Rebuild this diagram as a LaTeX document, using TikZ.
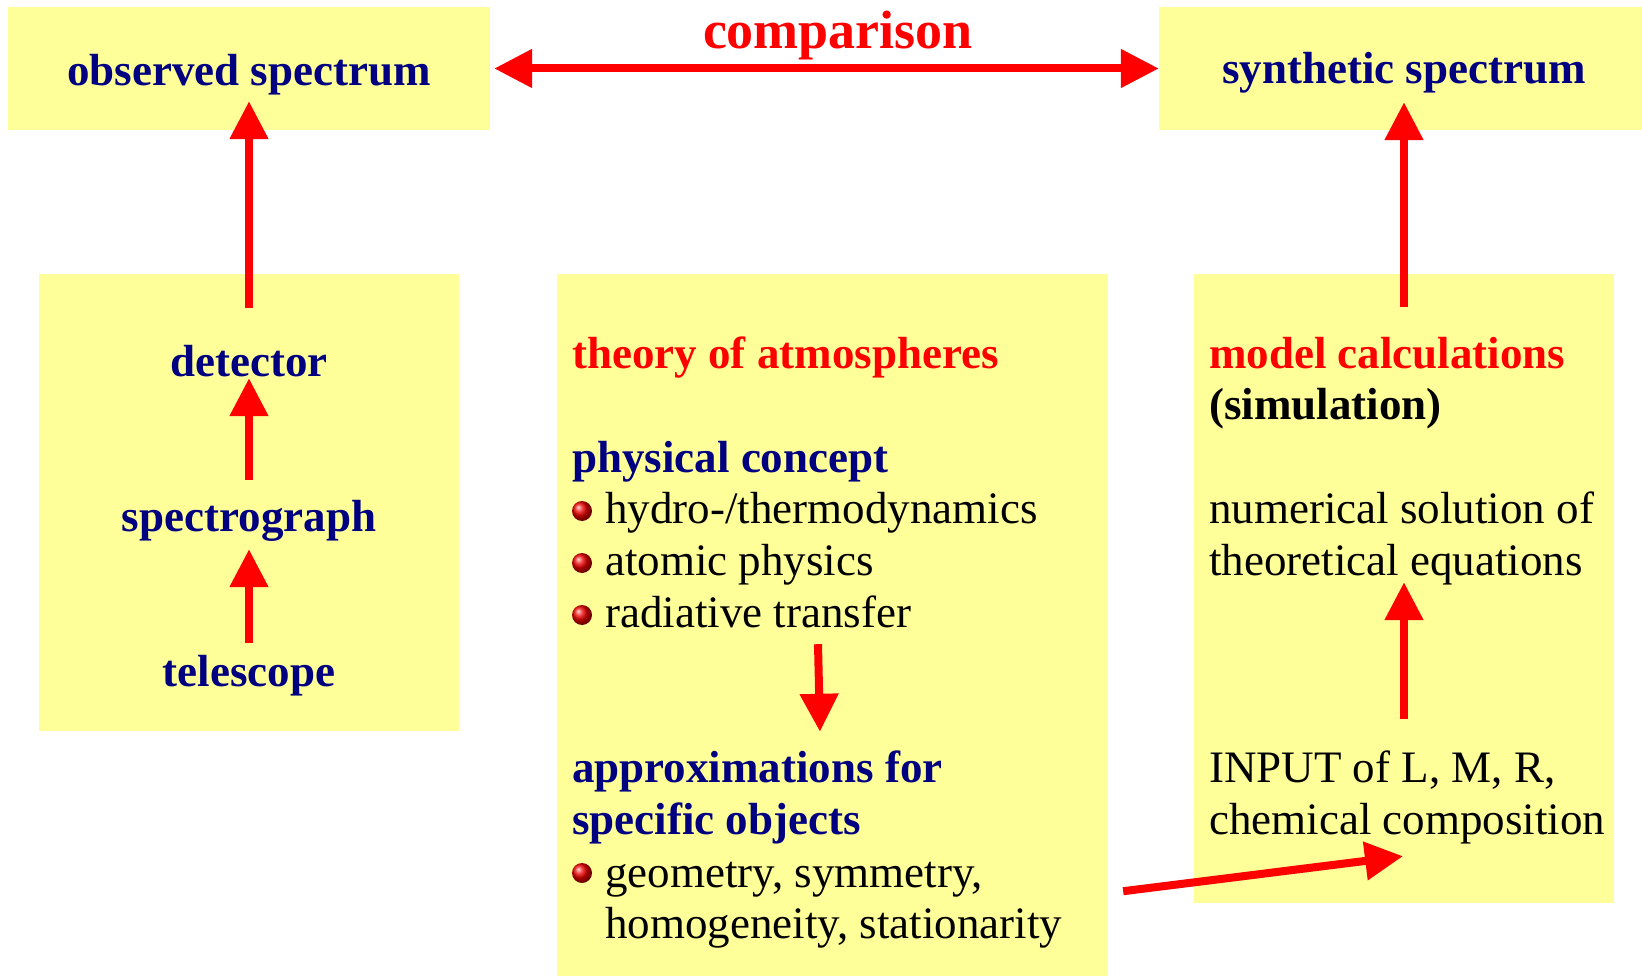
\documentclass[tikz,border=0pt]{standalone}
\usepackage{fontspec}
\setmainfont{Liberation Serif}
\usetikzlibrary{arrows.meta}
\definecolor{navyt}{RGB}{0,0,128}
\definecolor{boxy}{RGB}{255,255,153}
\definecolor{redt}{RGB}{255,0,0}
\begin{document}
\begin{tikzpicture}[x=1pt,y=-1pt,
  box/.style={fill=boxy,draw=none,inner sep=0,minimum width=#1},
  txt/.style={inner sep=0,text height=31pt,text depth=10pt,anchor=base west,font=\fontsize{45}{52}\selectfont},
  ctxt/.style={txt,anchor=base},
  hb/.style={txt,font=\fontsize{45}{52}\selectfont\bfseries,text=navyt},
  chb/.style={hb,anchor=base},
  rb/.style={txt,font=\fontsize{45}{52}\selectfont\bfseries,text=redt},
  bul/.style={circle,inner sep=0,minimum size=20pt,shade,ball color=red!95!black},
  arr/.style={draw=redt,line width=8pt,-{Triangle[length=38pt,width=37pt]}},
  darr/.style={draw=redt,line width=8pt,{Triangle[length=38pt,width=37pt]}-{Triangle[length=38pt,width=37pt]}}
]
\useasboundingbox (0,0) rectangle (1642,976);
% boxes
\node[box=482pt,minimum height=123pt] (obs) at (249,68.5) {};
\node[box=483pt,minimum height=123pt] (syn) at (1400.5,68.5) {};
\node[box=420pt,minimum height=457pt] (lbox) at (249,502.5) {};
\node[box=551pt,minimum height=702pt] (mbox) at (832.5,625) {};
\node[box=420pt,minimum height=629pt] (rbox) at (1404,588.5) {};
% top texts
\node[chb] (obst) at (249,86) {observed spectrum};
\node[chb] (synt) at (1404,84) {synthetic spectrum};
\node[inner sep=0,anchor=base,font=\fontsize{54}{60}\selectfont\bfseries,text=redt] (comp) at (838,49) {comparison};
% left box
\node[chb] (det) at (249,377) {detector};
\node[chb] (spec) at (249,531) {spectrograph};
\node[chb] (tel) at (249,686) {telescope};
% middle box
\node[rb] (theory) at (572,369) {theory of atmospheres};
\node[hb] (phys) at (572,472) {physical concept};
\node[txt] (hydro) at (605,523) {hydro-/thermodynamics};
\node[txt] (atom) at (605,575) {atomic physics};
\node[txt] (rad) at (605,627) {radiative transfer};
\node[hb] (approx) at (572,782) {approximations for};
\node[hb] (spobj) at (572,834) {specific objects};
\node[txt] (geom) at (605,887) {geometry, symmetry,};
\node[txt] (homo) at (605,938) {homogeneity, stationarity};
\node[bul] (b1) at (582,511) {};
\node[bul] (b2) at (582,563) {};
\node[bul] (b3) at (582,615) {};
\node[bul] (b4) at (582,873) {};
% right box
\node[rb] (model) at (1209,369) {model calculations};
\node[txt,font=\fontsize{45}{52}\selectfont\bfseries] (sim) at (1209,419) {(simulation)};
\node[txt] (num) at (1209,523) {numerical solution of};
\node[txt] (theo) at (1209,575) {theoretical equations};
\node[txt] (input) at (1209,782) {INPUT of L, M, R,};
\node[txt] (chem) at (1209,834) {chemical composition};
% arrows
\draw[darr,shorten <=4pt] (obs.east) -- (syn.west);
\draw[arr] ([yshift=38pt]det.north) -- ([yshift=29pt]obs.south);
\draw[arr] ([yshift=20pt]spec.north) -- ([yshift=9pt]det.south);
\draw[arr] ([yshift=12pt]tel.north) -- ([yshift=-8pt]spec.south);
\draw[arr] ([yshift=-33pt]rbox.north) -- ([yshift=28pt]rbox.north |- syn.south);
\draw[arr] ([xshift=195pt,yshift=32pt]input.north west) -- ([xshift=195pt,yshift=3pt]theo.south west);
\draw[arr] ([xshift=213pt,yshift=-7pt]rad.south west) -- ([xshift=248pt,yshift=19pt]approx.north west);
\draw[arr] ([xshift=15pt,yshift=85pt]mbox.south east) -- ([xshift=194pt,yshift=-12pt]chem.south west);
\end{tikzpicture}
\end{document}
